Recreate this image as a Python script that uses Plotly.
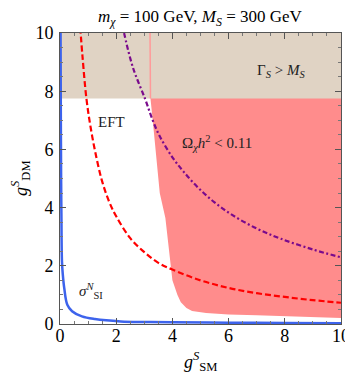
import plotly.graph_objects as go

# --- data ---
eft_x = [0.72, 0.80, 0.94, 1.1, 1.3, 1.5, 1.75, 2.0, 2.5, 3.0, 3.5, 4.0, 5.0, 6.0, 7.0, 8.0, 9.0, 10.0]
eft_y = [10.2, 9.2, 7.75, 6.7, 5.7, 4.9, 4.2, 3.7, 2.95, 2.47, 2.1, 1.87, 1.5, 1.24, 1.06, 0.93, 0.82, 0.73]

relic_x = [2.2, 2.28, 2.6, 3.03, 3.3, 3.55, 4.0, 4.41, 4.93, 5.5, 6.14, 7.0, 7.86, 9.0, 10.0]
relic_y = [10.4, 10.0, 8.8, 7.73, 7.0, 6.45, 5.73, 5.22, 4.67, 4.18, 3.74, 3.28, 2.93, 2.56, 2.29]

sigma_x = [0.02, 0.03, 0.04, 0.05, 0.07, 0.1, 0.15, 0.26, 0.43, 0.78, 1.24, 2.16, 3.0, 4.0, 6.0, 8.0, 10.0]
sigma_y = [10.0, 7.0, 5.0, 3.8, 2.15, 1.7, 1.24, 0.66, 0.44, 0.26, 0.17, 0.09, 0.07, 0.06, 0.045, 0.035, 0.03]

region_x = [3.20, 3.22, 3.30, 3.36, 3.47, 3.55, 3.75, 3.85, 3.93, 4.00, 4.18, 4.30, 4.50, 4.70, 5.20, 6.00, 7.00, 8.50, 10.0, 10.0]
region_y = [10.0, 7.75, 7.0, 6.4, 5.36, 4.5, 3.64, 2.8, 1.92, 1.5, 1.0, 0.75, 0.55, 0.45, 0.38, 0.33, 0.30, 0.25, 0.21, 10.0]

width_limit = 7.75
x_range = [0, 10]
tick_vals = [0, 2, 4, 6, 8, 10]
tick_text = ["0", "2", "4", "6", "8", "10"]

SERIF = "'Liberation Serif', 'Times New Roman', Times, serif"

fig = go.Figure()

fig.add_trace(go.Scatter(x=region_x, y=region_y, fill="toself", mode="lines",
                         line=dict(width=0), fillcolor="#FF8C8C", hoverinfo="skip"))
fig.add_trace(go.Scatter(x=[x_range[0], x_range[1], x_range[1], x_range[0]],
                         y=[width_limit, width_limit, 10.5, 10.5], fill="toself", mode="lines",
                         line=dict(width=0), fillcolor="#E0D3C4", hoverinfo="skip"))
fig.add_trace(go.Scatter(x=region_x[:2], y=[10.5, width_limit], mode="lines",
                         line=dict(color="#FF9A9A", width=1.5), hoverinfo="skip"))
fig.add_trace(go.Scatter(x=eft_x, y=eft_y, mode="lines", line_shape="spline",
                         line=dict(color="#FF0000", width=2.2, dash="6px,3px")))
fig.add_trace(go.Scatter(x=relic_x, y=relic_y, mode="lines", line_shape="spline",
                         line=dict(color="#7A0A8C", width=2.2, dash="5px,2.5px,2px,2.5px")))
fig.add_trace(go.Scatter(x=sigma_x, y=sigma_y, mode="lines", line_shape="spline",
                         line=dict(color="#3D63EC", width=2.5)))
fig.add_trace(go.Scatter(x=[5], y=[5], xaxis="x2", yaxis="y2", mode="markers",
                         marker=dict(opacity=0), hoverinfo="skip"))

axis_common = dict(range=x_range, showgrid=False, zeroline=False, showline=True,
                   linecolor="#555555", linewidth=1,
                   ticks="inside", ticklen=6, tickcolor="#555555", tickwidth=1,
                   tickvals=tick_vals, ticktext=tick_text,
                   tickfont=dict(family=SERIF, size=18, color="black"),
                   minor=dict(ticks="inside", ticklen=3, tickcolor="#777777", dtick=0.5, showgrid=False))

fig.update_layout(
    font=dict(family=SERIF),
    xaxis=dict(**axis_common, ticklabelstandoff=-5),
    yaxis=dict(**axis_common, ticklabelstandoff=2),
    xaxis2=dict(**axis_common, overlaying="x", side="top", showticklabels=False),
    yaxis2=dict(**axis_common, overlaying="y", side="right", showticklabels=False),
)

ann = []
ann.append(dict(x=0.5, y=1.0, xref="paper", yref="paper", yanchor="bottom", yshift=2,
                text="<i>m</i><sub><i>χ</i></sub> = 100 GeV, <i>M</i><sub><i>S</i></sub> = 300 GeV",
                showarrow=False, font=dict(family=SERIF, size=17, color="black")))
ann.append(dict(x=0.5, y=0, xref="paper", yref="paper", yanchor="top", yshift=-23,
                text="<i>g</i><sup><i>S</i></sup><sub>SM</sub>",
                showarrow=False, font=dict(family=SERIF, size=18, color="black")))
ann.append(dict(x=0, y=0.5, xref="paper", yref="paper", xanchor="right", xshift=-25,
                text="<i>g</i><sup><i>S</i></sup><sub>DM</sub>", textangle=-90,
                showarrow=False, font=dict(family=SERIF, size=18, color="black")))
ann.append(dict(x=7.86, y=8.69, text="Γ<sub><i>S</i></sub> > <i>M</i><sub><i>S</i></sub>",
                showarrow=False, font=dict(family=SERIF, size=15, color="#222222")))
ann.append(dict(x=5.57, y=6.22, text="Ω<sub><i>χ</i></sub><i>h</i><sup>2</sup> < 0.11",
                showarrow=False, font=dict(family=SERIF, size=15, color="#222222")))
ann.append(dict(x=1.83, y=6.94, text="EFT",
                showarrow=False, font=dict(family=SERIF, size=15, color="#222222")))
ann.append(dict(x=1.1, y=1.13, text="<i>σ</i><sup><i>N</i></sup><sub>SI</sub>",
                showarrow=False, font=dict(family=SERIF, size=15, color="#222222")))

fig.update_layout(width=353, height=374, margin=dict(l=52, r=11, t=25, b=58),
                  plot_bgcolor="white", paper_bgcolor="white", showlegend=False,
                  annotations=ann)

fig.write_html("out.html")
